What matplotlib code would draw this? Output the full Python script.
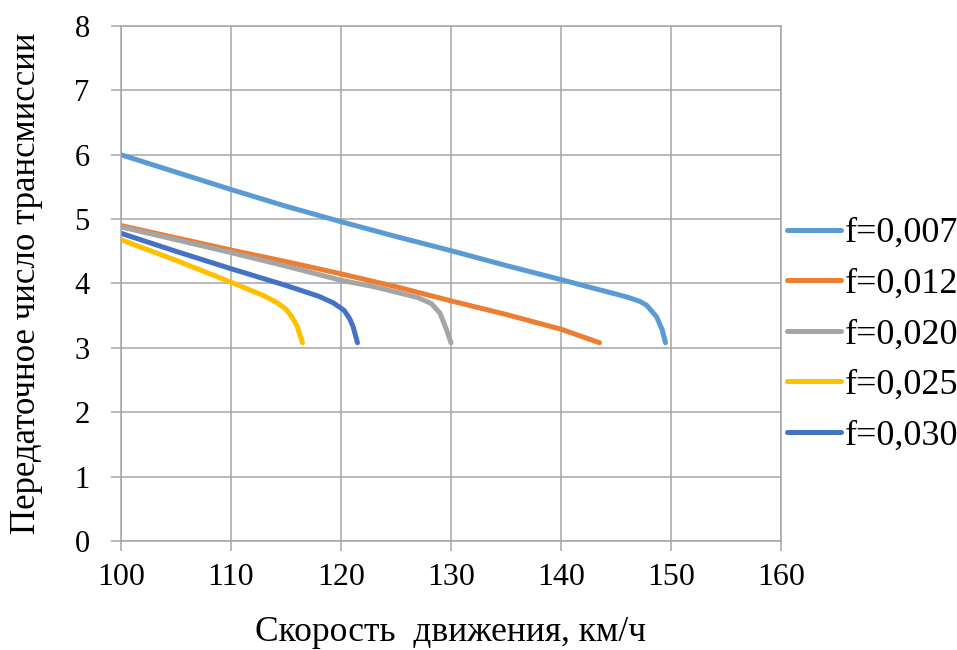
import matplotlib
matplotlib.use("Agg")
import matplotlib.pyplot as plt

plt.rcParams['font.family'] = ['Liberation Serif', 'DejaVu Serif']

# Speed (km/h) vs. transmission ratio for different rolling resistance coefficients
x_007 = [100, 105, 110, 115, 120, 125, 130, 135, 140, 144, 146, 147.2, 147.8, 148.7, 149.2, 149.5]
y_007 = [6.00, 5.73, 5.46, 5.20, 4.96, 4.73, 4.51, 4.28, 4.06, 3.88, 3.79, 3.72, 3.66, 3.48, 3.28, 3.08]

x_012 = [100, 105, 110, 115, 120, 125, 130, 135, 140, 143.5]
y_012 = [4.90, 4.71, 4.52, 4.34, 4.15, 3.95, 3.73, 3.52, 3.29, 3.08]

x_020 = [100, 105, 110, 115, 120, 123, 125.4, 127, 128.2, 129.0, 129.6, 130.0]
y_020 = [4.88, 4.68, 4.48, 4.27, 4.05, 3.95, 3.85, 3.78, 3.69, 3.54, 3.28, 3.08]

x_025 = [100, 105, 110, 113, 114.2, 115.0, 115.5, 116.0, 116.5]
y_025 = [4.68, 4.36, 4.02, 3.81, 3.70, 3.60, 3.49, 3.34, 3.08]

x_030 = [100, 105, 110, 115, 118, 119.3, 120.3, 120.8, 121.1, 121.5]
y_030 = [4.78, 4.50, 4.23, 3.97, 3.80, 3.70, 3.58, 3.45, 3.33, 3.08]

labels = ['f=0,007', 'f=0,012', 'f=0,020', 'f=0,025', 'f=0,030']
colors = ['#5B9BD5', '#ED7D31', '#A5A5A5', '#FFC000', '#4472C4']

x_ticks = [100, 110, 120, 130, 140, 150, 160]
y_ticks = [0, 1, 2, 3, 4, 5, 6, 7, 8]

fig = plt.figure(figsize=(9.57, 6.5), dpi=100)
ax = fig.add_axes([0.1264, 0.1677, 0.6897, 0.7923])

series = [(x_007, y_007), (x_012, y_012), (x_020, y_020), (x_025, y_025), (x_030, y_030)]
lines = []
for (xs, ys), lab, c in zip(series, labels, colors):
    ln, = ax.plot(xs, ys, color=c, lw=3.6, label=lab, solid_capstyle='round',
                  solid_joinstyle='round')
    lines.append(ln)

ax.set_xlim(100, 160)
ax.set_ylim(0, 8)
ax.set_xticks(x_ticks)
ax.set_yticks(y_ticks)
ax.grid(True, color='#A6A6A6', lw=1.1)
ax.set_axisbelow(True)
for s in ax.spines.values():
    s.set_color('#A6A6A6')
    s.set_linewidth(1.1)
ax.tick_params(axis='both', colors='#A6A6A6', length=7.5, width=1.1,
               labelcolor='black')
ax.tick_params(axis='x', labelsize=23, pad=8)
ax.tick_params(axis='y', labelsize=22, pad=15)

ax.set_xlabel('Скорость  движения, км/ч', fontsize=25.5)
ax.xaxis.set_label_coords(0.5, -0.145)
ax.set_ylabel('Передаточное число трансмиссии', fontsize=25)
ax.yaxis.set_label_coords(-0.118, 0.5)

leg = fig.legend(handles=lines, loc='center left', bbox_to_anchor=(0.822, 0.485),
                 frameon=False, fontsize=26, handlelength=1.5, handletextpad=0.1,
                 labelspacing=0.48, borderpad=0, borderaxespad=0)
for h in leg.get_lines():
    h.set_linewidth(3.6)

fig.savefig('out.png', dpi=100)
